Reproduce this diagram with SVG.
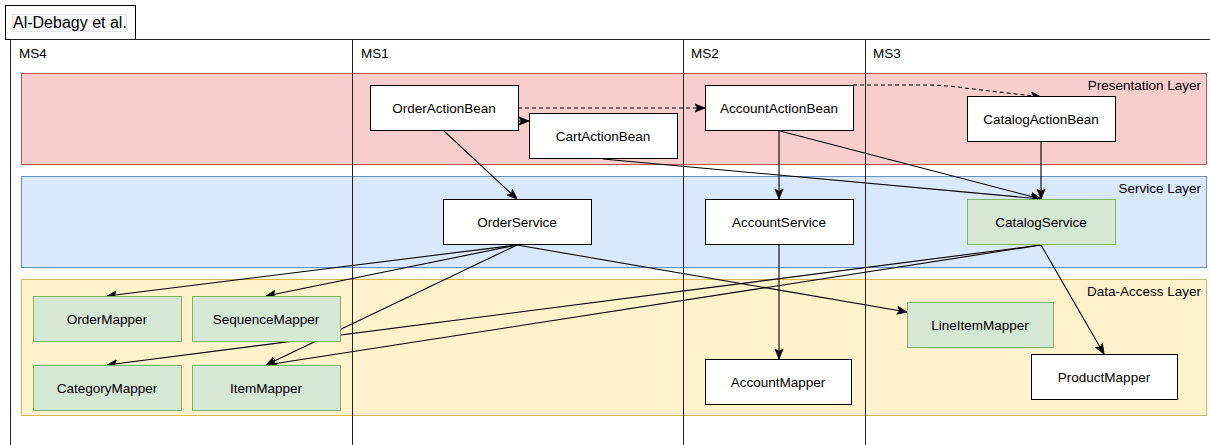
<svg xmlns="http://www.w3.org/2000/svg" width="1210" height="445" viewBox="0 0 1210 445">
<style>
text{font-family:"Liberation Sans",Arial,sans-serif;font-size:13.5px;fill:#000}
.node{fill:#fff;stroke:#000;stroke-width:1}
.gnode{fill:#d5e8d4;stroke:#82b366;stroke-width:1}
.c{text-anchor:middle;dominant-baseline:central}
.lane{stroke:#222;stroke-width:1;fill:none}
.edge{fill:none;stroke:#000;stroke-width:1.1;marker-end:url(#arr)}
.dash{stroke-dasharray:4 3}
.lbl{text-anchor:end}
</style>
<defs>
<marker id="arr" viewBox="0 0 10 10" refX="10" refY="5" markerWidth="10" markerHeight="10" markerUnits="userSpaceOnUse" orient="auto">
<path d="M0,1 L10,5 L0,9 L2.5,5 z" fill="#000" stroke="#000" stroke-width="0.8" stroke-dasharray="none"/>
</marker>
</defs>
<rect width="1210" height="445" fill="#fff"/>
<g id="title">
<rect x="5.5" y="5.5" width="130" height="34" fill="#fff" stroke="#000"/>
<rect x="12.5" y="14.5" width="114" height="17" fill="#f8f9fa" stroke="#dadce0" stroke-width="0.8"/>
<text x="13" y="28" style="font-size:16px">Al-Debagy et al.</text>
</g>
<g id="layers">
<rect id="presentation-layer" x="21.5" y="73.5" width="1185" height="91" fill="#f8cecc" stroke="#b85450"/>
<text class="lbl" x="1201" y="90">Presentation Layer</text>
<rect id="service-layer" x="21.5" y="176.5" width="1185" height="91" fill="#dae8fc" stroke="#6c8ebf"/>
<text class="lbl" x="1201" y="193">Service Layer</text>
<rect id="data-access-layer" x="21.5" y="279.5" width="1185" height="136" fill="#fff2cc" stroke="#d6b656"/>
<text class="lbl" x="1201" y="296">Data-Access Layer</text>
</g>
<g id="lanes">
<line class="lane" x1="10" y1="39.5" x2="1210" y2="39.5"/>
<line class="lane" x1="10.5" y1="39.5" x2="10.5" y2="445"/>
<line class="lane" x1="352.5" y1="39.5" x2="352.5" y2="445"/>
<line class="lane" x1="683.5" y1="39.5" x2="683.5" y2="445"/>
<line class="lane" x1="865.5" y1="39.5" x2="865.5" y2="445"/>
<text x="19" y="58">MS4</text>
<text x="361" y="58">MS1</text>
<text x="691" y="58">MS2</text>
<text x="873" y="58">MS3</text>
</g>
<g id="connectors">
<line class="edge" x1="518" y1="121" x2="529" y2="121"/>
<line class="edge dash" x1="518" y1="108" x2="705" y2="108"/>
<path class="edge dash" d="M853,85 L925,85 Q945,85 965,88 L1041,97"/>
<line class="edge" x1="444" y1="131" x2="517" y2="199"/>
<line class="edge" x1="603" y1="159" x2="1041" y2="199"/>
<line class="edge" x1="779" y1="131" x2="779" y2="199"/>
<line class="edge" x1="780" y1="131" x2="1041" y2="199"/>
<line class="edge" x1="1041" y1="142" x2="1041" y2="199"/>
<line class="edge" x1="517" y1="245" x2="107" y2="296"/>
<line class="edge" x1="517" y1="245" x2="266" y2="296"/>
<line class="edge" x1="517" y1="245" x2="266" y2="365"/>
<line class="edge" x1="517" y1="245" x2="907" y2="312"/>
<line class="edge" x1="1041" y1="245" x2="107" y2="365"/>
<line class="edge" x1="1041" y1="245" x2="266" y2="365"/>
<line class="edge" x1="1041" y1="245" x2="1104" y2="354"/>
<line class="edge" x1="779" y1="245" x2="779" y2="359"/>
</g>
<g id="OrderActionBean"><rect class="node" x="370.5" y="85.5" width="148" height="45"/><text class="c" x="444" y="108">OrderActionBean</text></g>
<g id="CartActionBean"><rect class="node" x="529.5" y="113.5" width="148" height="45"/><text class="c" x="603" y="136">CartActionBean</text></g>
<g id="AccountActionBean"><rect class="node" x="705.5" y="85.5" width="148" height="45"/><text class="c" x="779" y="108">AccountActionBean</text></g>
<g id="CatalogActionBean"><rect class="node" x="967.5" y="96.5" width="148" height="45"/><text class="c" x="1041" y="119">CatalogActionBean</text></g>
<g id="OrderService"><rect class="node" x="443.5" y="199.5" width="148" height="45"/><text class="c" x="517" y="222">OrderService</text></g>
<g id="AccountService"><rect class="node" x="705.5" y="199.5" width="148" height="45"/><text class="c" x="779" y="222">AccountService</text></g>
<g id="CatalogService"><rect class="gnode" x="967.5" y="199.5" width="148" height="45"/><text class="c" x="1041" y="222">CatalogService</text></g>
<g id="OrderMapper"><rect class="gnode" x="33.5" y="296.5" width="148" height="45"/><text class="c" x="107" y="319">OrderMapper</text></g>
<g id="SequenceMapper"><rect class="gnode" x="192.5" y="296.5" width="148" height="45"/><text class="c" x="266" y="319">SequenceMapper</text></g>
<g id="CategoryMapper"><rect class="gnode" x="33.5" y="365.5" width="148" height="45"/><text class="c" x="107" y="388">CategoryMapper</text></g>
<g id="ItemMapper"><rect class="gnode" x="192.5" y="365.5" width="148" height="45"/><text class="c" x="266" y="388">ItemMapper</text></g>
<g id="LineItemMapper"><rect class="gnode" x="907.5" y="302.5" width="146" height="45"/><text class="c" x="980" y="325">LineItemMapper</text></g>
<g id="AccountMapper"><rect class="node" x="705.5" y="359.5" width="146" height="45"/><text class="c" x="778" y="382">AccountMapper</text></g>
<g id="ProductMapper"><rect class="node" x="1031.5" y="354.5" width="146" height="45"/><text class="c" x="1104" y="377">ProductMapper</text></g>
</svg>
